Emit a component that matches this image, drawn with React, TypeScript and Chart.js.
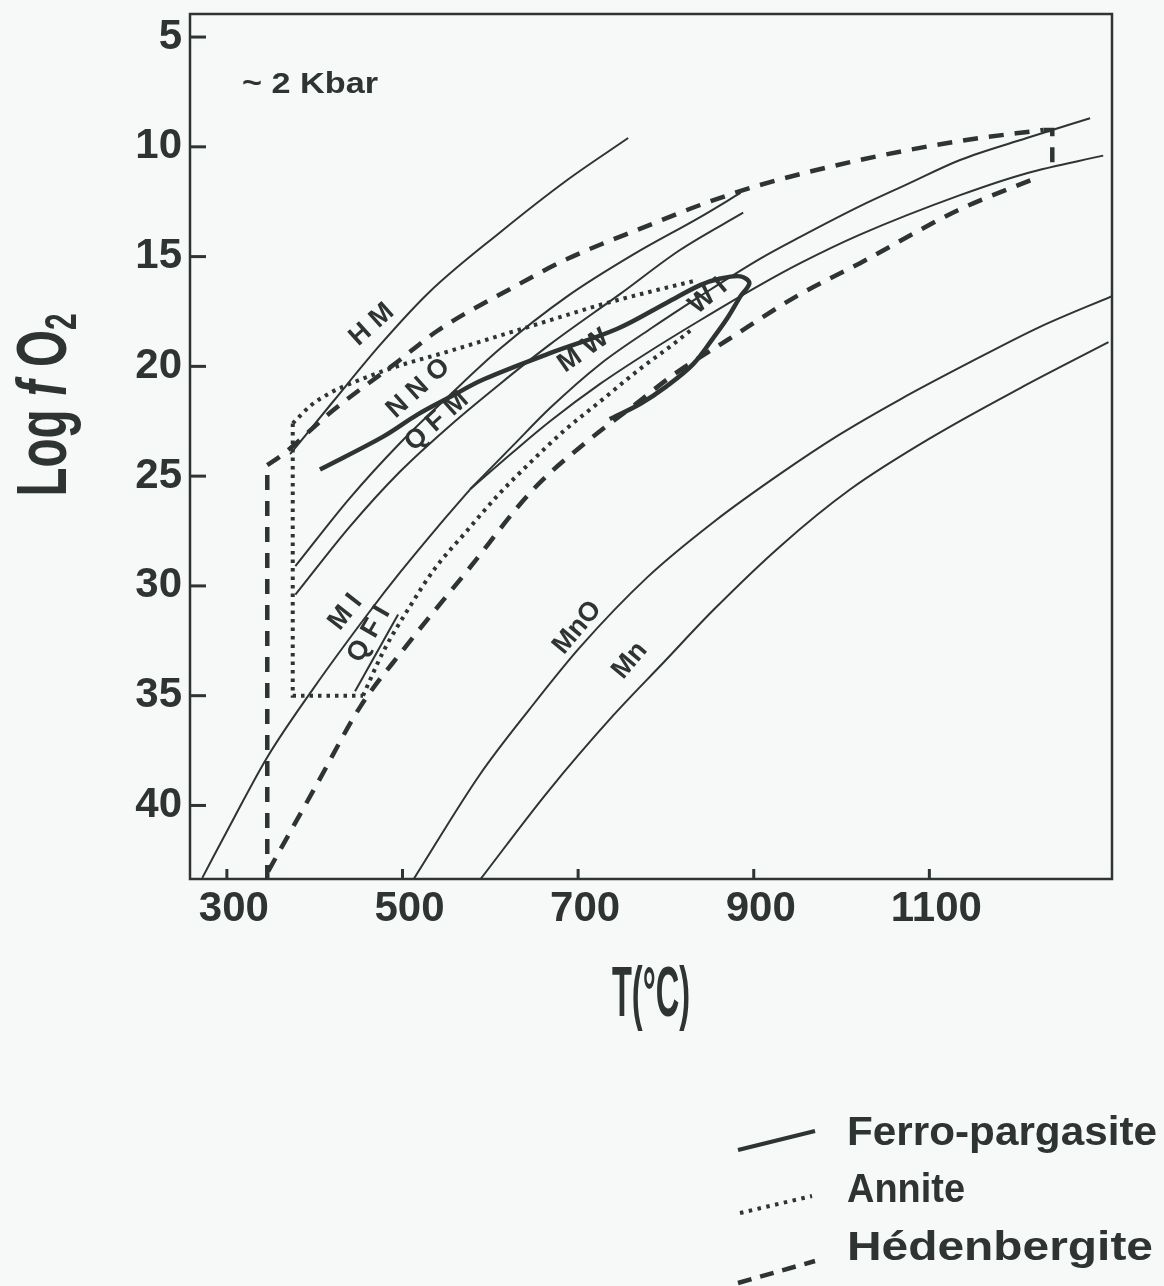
import React, { useEffect, useRef } from "react";
import { Chart, registerables } from "chart.js";

Chart.register(...registerables);

// ---------- axes ----------
const xTickValues = [300, 500, 700, 900, 1100];
const yTickValues = [5, 10, 15, 20, 25, 30, 35, 40];
const xRange = [258, 1308];
const yRange = [3.95, 43.35];

// ---------- buffer curves (T °C, -log fO2) ----------
const hmT = [372, 421, 475, 531, 611, 688, 757];
const hmLogfO2 = [24.0, 21.6, 19.0, 16.6, 13.9, 11.5, 9.6];
const nnoT = [378, 440, 497, 554, 611, 688, 763, 839, 885];
const nnoLogfO2 = [29.1, 26.0, 23.5, 21.3, 19.2, 16.8, 14.9, 13.2, 12.1];
const qfmT = [378, 440, 497, 554, 611, 668, 748, 816, 888];
const qfmLogfO2 = [30.4, 27.3, 24.8, 22.7, 20.8, 19.0, 16.7, 14.7, 13.0];
const miT = [272, 309, 346, 398, 462, 497, 551, 577];
const miLogfO2 = [43.3, 40.5, 37.8, 34.7, 31.2, 29.4, 26.8, 25.6];
const mwT = [577, 626, 668, 725, 782, 839, 907, 953, 1021, 1075, 1135, 1211, 1283];
const mwLogfO2 = [25.6, 23.6, 21.9, 19.9, 18.3, 16.8, 15.1, 14.1, 12.7, 11.7, 10.6, 9.6, 8.7];
const wiT = [577, 626, 668, 725, 782, 839, 907, 953, 1021, 1135, 1211, 1298];
const wiLogfO2 = [25.6, 23.9, 22.5, 20.8, 19.3, 17.9, 16.3, 15.3, 14.0, 12.2, 11.2, 10.4];
const qfiT = [446, 495];
const qfiLogfO2 = [34.8, 31.3];
const mnoT = [512, 588, 645, 702, 779, 854, 930, 998, 1067, 1147, 1226, 1308];
const mnoLogfO2 = [43.4, 38.6, 35.6, 32.8, 29.6, 27.1, 24.9, 23.1, 21.5, 19.8, 18.2, 16.8];
const mnT = [588, 665, 740, 797, 854, 930, 1010, 1104, 1203, 1304];
const mnLogfO2 = [43.4, 39.4, 35.9, 33.5, 31.1, 28.2, 25.6, 23.2, 21.0, 18.9];

// ---------- stability fields ----------
const ferroT = [406, 478, 517, 554, 592, 668, 744, 801, 839, 862, 885, 895, 885, 870, 854, 831, 801, 771, 736];
const ferroLogfO2 = [24.7, 23.2, 22.2, 21.4, 20.6, 19.4, 18.3, 17.1, 16.3, 16.0, 15.9, 16.2, 16.8, 17.8, 18.7, 19.9, 20.9, 21.7, 22.4];

const anniteUpperT = [375, 395, 418, 440, 486, 554, 611, 668, 725, 782, 833];
const anniteUpperLogfO2 = [22.6, 21.8, 21.2, 20.8, 20.1, 19.3, 18.6, 17.9, 17.2, 16.6, 16.1];
const anniteBoxT = [375, 375, 455];
const anniteBoxLogfO2 = [22.6, 35.0, 35.0];
const anniteLowerT = [455, 478, 509, 537, 571, 608, 645, 685, 725, 771, 808, 830];
const anniteLowerLogfO2 = [35.0, 33.0, 30.9, 29.2, 27.6, 25.9, 24.4, 22.9, 21.6, 20.1, 19.0, 18.3];

const hedLeftT = [346, 346];
const hedLeftLogfO2 = [43.4, 24.5];
const hedUpperT = [346, 364, 421, 494, 539, 626, 688, 779, 839, 907, 1021, 1135, 1230];
const hedUpperLogfO2 = [24.5, 24.0, 22.0, 19.8, 18.4, 16.4, 15.1, 13.6, 12.65, 11.74, 10.6, 9.73, 9.23];
const hedRightT = [1230, 1240, 1240];
const hedRightLogfO2 = [9.23, 9.23, 11.2];
const hedLowerT = [347, 403, 452, 501, 574, 649, 717, 763, 808, 870, 949, 1021, 1132, 1223];
const hedLowerLogfO2 = [43.0, 39.0, 35.5, 32.9, 29.3, 25.6, 23.2, 21.8, 20.4, 18.8, 16.8, 15.3, 12.9, 11.4];

// ---------- in-plot labels ----------
const bufferLabels = ["H M", "N N O", "Q F M", "M W", "W I", "M I", "Q F I", "MnO", "Mn"];
const bufferLabelT = [465, 518, 539, 706, 848, 435, 462, 699, 759];
const bufferLabelLogfO2 = [18.1, 21.0, 22.5, 19.3, 16.8, 31.2, 32.2, 31.9, 33.4];
const bufferLabelAngle = [-42, -42, -42, -35, -40, -52, -60, -50, -50];
const pressureNote = "~ 2 Kbar";
const legendNames = ["Ferro-pargasite", "Annite", "Hédenbergite"];

const INK = "#2e3432";
const BG = "#f7f8f8";
const FONT = "'Liberation Sans', Arial, Helvetica, sans-serif";

const mk = (T: number[], V: number[]) => T.map((t, i) => ({ x: t, y: V[i] }));

function stretchText(ctx: CanvasRenderingContext2D, text: string, x: number, y: number, font: string, width?: number) {
  ctx.save();
  ctx.font = font;
  const w = ctx.measureText(text).width;
  const sx = width ? width / w : 1;
  ctx.translate(x, y);
  ctx.scale(sx, 1);
  ctx.textAlign = "left";
  ctx.textBaseline = "alphabetic";
  ctx.fillText(text, 0, 0);
  ctx.restore();
}

const decor = {
  id: "decor",
  beforeDraw(chart: any) {
    const { ctx, width, height } = chart;
    ctx.save();
    ctx.fillStyle = BG;
    ctx.fillRect(0, 0, width, height);
    ctx.restore();
  },
  afterDraw(chart: any) {
    const { ctx, chartArea: a } = chart;
    const xs = chart.scales.x;
    const ys = chart.scales.y;
    ctx.save();
    ctx.strokeStyle = INK;
    ctx.fillStyle = INK;
    // frame
    ctx.lineWidth = 2.5;
    ctx.strokeRect(a.left, a.top, a.right - a.left, a.bottom - a.top);
    // inward ticks
    ctx.lineWidth = 3;
    yTickValues.forEach((v) => {
      const p = ys.getPixelForValue(v);
      ctx.beginPath();
      ctx.moveTo(a.left, p);
      ctx.lineTo(a.left + 16, p);
      ctx.stroke();
    });
    xTickValues.forEach((v) => {
      const p = xs.getPixelForValue(v);
      ctx.beginPath();
      ctx.moveTo(p, a.bottom);
      ctx.lineTo(p, a.bottom - 10);
      ctx.stroke();
    });
    // buffer labels
    ctx.font = `bold 27px ${FONT}`;
    ctx.textAlign = "center";
    ctx.textBaseline = "middle";
    bufferLabels.forEach((t, i) => {
      ctx.save();
      ctx.translate(xs.getPixelForValue(bufferLabelT[i]), ys.getPixelForValue(bufferLabelLogfO2[i]));
      ctx.rotate((bufferLabelAngle[i] * Math.PI) / 180);
      ctx.fillText(t, 0, 0);
      ctx.restore();
    });
    // pressure note
    stretchText(ctx, pressureNote, a.left + 52, 93, `bold 30px ${FONT}`, 136);

    // y title: Log f O2
    ctx.save();
    ctx.translate(66, 405);
    ctx.rotate(-Math.PI / 2);
    ctx.scale(0.68, 1);
    const parts = [
      { t: "Log ", f: `bold 70px ${FONT}`, dy: 0 },
      { t: "f", f: `italic bold 70px ${FONT}`, dy: 0 },
      { t: " O", f: `bold 70px ${FONT}`, dy: 0 },
      { t: "2", f: `bold 44px ${FONT}`, dy: 10 },
    ];
    let total = 0;
    parts.forEach((p) => { ctx.font = p.f; total += ctx.measureText(p.t).width; });
    let cx = -total / 2;
    ctx.textAlign = "left";
    ctx.textBaseline = "alphabetic";
    parts.forEach((p) => {
      ctx.font = p.f;
      ctx.fillText(p.t, cx, p.dy);
      cx += ctx.measureText(p.t).width;
    });
    ctx.restore();

    // x title: T(°C)
    ctx.save();
    ctx.font = `bold 70px ${FONT}`;
    const tw = ctx.measureText("T(°C)").width;
    ctx.translate((a.left + a.right) / 2, 1016);
    ctx.scale(78 / tw, 1);
    ctx.textAlign = "center";
    ctx.textBaseline = "alphabetic";
    ctx.fillText("T(°C)", 0, 0);
    ctx.restore();

    // legend
    ctx.lineCap = "butt";
    ctx.lineWidth = 4;
    ctx.setLineDash([]);
    ctx.beginPath(); ctx.moveTo(738, 1150); ctx.lineTo(815, 1131); ctx.stroke();
    ctx.lineWidth = 4;
    ctx.setLineDash([3.5, 5.5]);
    ctx.beginPath(); ctx.moveTo(740, 1213); ctx.lineTo(812, 1196); ctx.stroke();
    ctx.lineWidth = 4.5;
    ctx.setLineDash([14, 9]);
    ctx.beginPath(); ctx.moveTo(738, 1283); ctx.lineTo(815, 1261); ctx.stroke();
    ctx.setLineDash([]);
    const lw = [310, 118, 306];
    const lb = [1145, 1202, 1260];
    legendNames.forEach((n, i) => stretchText(ctx, n, 847, lb[i], `bold 41px ${FONT}`, lw[i]));
    ctx.restore();
  },
};

export default function App() {
  const ref = useRef<HTMLCanvasElement>(null);
  useEffect(() => {
    const canvas = ref.current!;
    const thin = { borderColor: INK, borderWidth: 2, pointRadius: 0, cubicInterpolationMode: "monotone", showLine: true, fill: false };
    const dotted = { borderColor: INK, borderWidth: 4, borderDash: [3.5, 5], pointRadius: 0, cubicInterpolationMode: "monotone", showLine: true, fill: false };
    const dashed = { borderColor: INK, borderWidth: 4.5, borderDash: [15, 11], pointRadius: 0, cubicInterpolationMode: "monotone", showLine: true, fill: false };
    const datasets: any[] = [
      { label: "HM", data: mk(hmT, hmLogfO2), ...thin },
      { label: "NNO", data: mk(nnoT, nnoLogfO2), ...thin },
      { label: "QFM", data: mk(qfmT, qfmLogfO2), ...thin },
      { label: "MI", data: mk(miT, miLogfO2), ...thin },
      { label: "MW", data: mk(mwT, mwLogfO2), ...thin },
      { label: "WI", data: mk(wiT, wiLogfO2), ...thin },
      { label: "QFI", data: mk(qfiT, qfiLogfO2), ...thin },
      { label: "MnO", data: mk(mnoT, mnoLogfO2), ...thin },
      { label: "Mn", data: mk(mnT, mnLogfO2), ...thin },
      { label: "Ferro-pargasite", data: mk(ferroT, ferroLogfO2), borderColor: INK, borderWidth: 4.5, pointRadius: 0, tension: 0.35, showLine: true, fill: false },
      { label: "Annite upper", data: mk(anniteUpperT, anniteUpperLogfO2), ...dotted },
      { label: "Annite box", data: mk(anniteBoxT, anniteBoxLogfO2), ...dotted, cubicInterpolationMode: "default", tension: 0 },
      { label: "Annite lower", data: mk(anniteLowerT, anniteLowerLogfO2), ...dotted },
      { label: "Hed left", data: mk(hedLeftT, hedLeftLogfO2), ...dashed, cubicInterpolationMode: "default", tension: 0 },
      { label: "Hed upper", data: mk(hedUpperT, hedUpperLogfO2), ...dashed },
      { label: "Hed right", data: mk(hedRightT, hedRightLogfO2), ...dashed, cubicInterpolationMode: "default", tension: 0 },
      { label: "Hed lower", data: mk(hedLowerT, hedLowerLogfO2), ...dashed },
    ];
    const tickFont = { family: FONT, size: 42, weight: "bold" as const };
    const chart = new Chart(canvas, {
      type: "scatter",
      data: { datasets },
      options: {
        responsive: false,
        animation: false,
        devicePixelRatio: 1,
        layout: { padding: { left: 0, top: 14, right: 52, bottom: 347 } },
        plugins: { legend: { display: false }, tooltip: { enabled: false } },
        scales: {
          x: {
            type: "linear",
            min: xRange[0],
            max: xRange[1],
            afterBuildTicks: (s: any) => { s.ticks = xTickValues.map((v) => ({ value: v })); },
            afterFit: (s: any) => { s.height = 60; s.paddingLeft = 0; s.paddingRight = 0; },
            grid: { display: false, drawTicks: false },
            border: { display: false },
            ticks: { font: tickFont, color: INK, padding: 5, labelOffset: 7, maxRotation: 0, autoSkip: false, callback: (v: any) => String(v) },
          },
          y: {
            type: "linear",
            reverse: true,
            min: yRange[0],
            max: yRange[1],
            afterBuildTicks: (s: any) => { s.ticks = yTickValues.map((v) => ({ value: v })); },
            afterFit: (s: any) => { s.width = 190; s.paddingTop = 0; s.paddingBottom = 0; },
            grid: { display: false, drawTicks: false },
            border: { display: false },
            ticks: { font: tickFont, color: INK, padding: 8, autoSkip: false, callback: (v: any) => String(v) },
          },
        },
      } as any,
      plugins: [decor],
    });
    return () => chart.destroy();
  }, []);
  return (
    <canvas
      ref={ref}
      width={1164}
      height={1286}
      style={{ position: "absolute", left: 0, top: 0, display: "block", width: 1164, height: 1286 }}
    />
  );
}
